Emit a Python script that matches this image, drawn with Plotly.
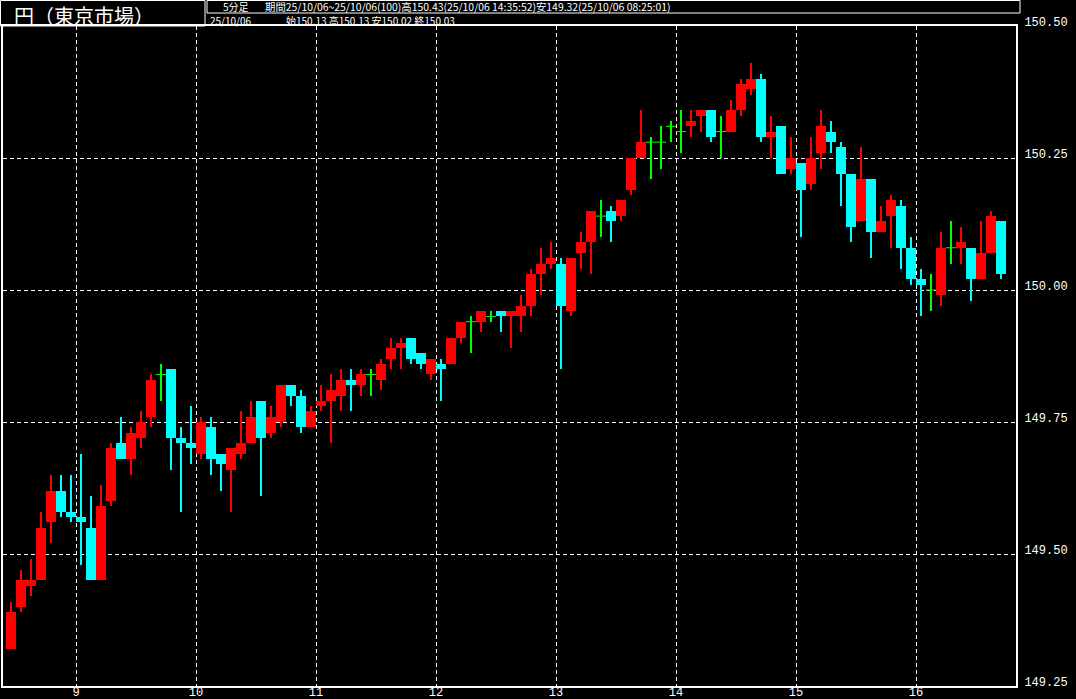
import plotly.graph_objects as go

# ---------------- data (5-minute bars, 25/10/06, from 08:25) ----------------
start_time = "08:25"
bar_minutes = 5
opens = [149.32, 149.40, 149.44, 149.45, 149.56, 149.62, 149.58, 149.57, 149.55, 149.45,
         149.60, 149.71, 149.68, 149.72, 149.76, 149.84, 149.85, 149.72, 149.71, 149.69,
         149.74, 149.69, 149.66, 149.69, 149.71, 149.79, 149.73, 149.75, 149.82, 149.80,
         149.74, 149.78, 149.79, 149.80, 149.83, 149.82, 149.84, 149.83, 149.87, 149.89,
         149.91, 149.88, 149.84, 149.86, 149.86, 149.91, 149.94, 149.94, 149.95, 149.96,
         149.95, 149.95, 149.97, 150.03, 150.05, 150.05, 149.96, 150.07, 150.09, 150.14,
         150.15, 150.14, 150.19, 150.25, 150.28, 150.28, 150.31, 150.30, 150.31, 150.33,
         150.34, 150.30, 150.30, 150.34, 150.38, 150.40, 150.29, 150.31, 150.23, 150.24,
         150.20, 150.26, 150.30, 150.27, 150.22, 150.13, 150.21, 150.11, 150.14, 150.16,
         150.08, 150.02, 150.00, 149.99, 150.08, 150.08, 150.08, 150.02, 150.07, 150.13]
highs = [149.41, 149.47, 149.49, 149.58, 149.65, 149.65, 149.65, 149.69, 149.61, 149.63,
         149.71, 149.76, 149.74, 149.77, 149.84, 149.86, 149.85, 149.74, 149.78, 149.76,
         149.76, 149.69, 149.70, 149.77, 149.79, 149.79, 149.78, 149.82, 149.82, 149.81,
         149.78, 149.82, 149.84, 149.85, 149.85, 149.85, 149.85, 149.87, 149.91, 149.91,
         149.91, 149.88, 149.87, 149.87, 149.91, 149.94, 149.95, 149.96, 149.96, 149.96,
         149.96, 149.99, 150.04, 150.08, 150.09, 150.06, 150.06, 150.11, 150.15, 150.17,
         150.16, 150.17, 150.25, 150.34, 150.29, 150.31, 150.32, 150.34, 150.34, 150.34,
         150.34, 150.33, 150.36, 150.40, 150.43, 150.41, 150.33, 150.31, 150.29, 150.24,
         150.29, 150.34, 150.32, 150.28, 150.22, 150.27, 150.21, 150.16, 150.18, 150.17,
         150.10, 150.04, 150.03, 150.11, 150.13, 150.12, 150.08, 150.13, 150.15, 150.13]
lows = [149.32, 149.39, 149.42, 149.45, 149.52, 149.57, 149.56, 149.48, 149.45, 149.45,
        149.59, 149.68, 149.65, 149.70, 149.74, 149.79, 149.66, 149.58, 149.67, 149.68,
        149.65, 149.62, 149.58, 149.68, 149.71, 149.61, 149.72, 149.74, 149.78, 149.73,
        149.74, 149.77, 149.71, 149.77, 149.77, 149.80, 149.80, 149.81, 149.85, 149.85,
        149.86, 149.85, 149.83, 149.79, 149.86, 149.90, 149.88, 149.92, 149.94, 149.92,
        149.89, 149.92, 149.95, 149.99, 150.04, 149.85, 149.95, 150.04, 150.03, 150.10,
        150.09, 150.13, 150.18, 150.25, 150.21, 150.23, 150.28, 150.26, 150.29, 150.30,
        150.28, 150.25, 150.30, 150.33, 150.37, 150.28, 150.25, 150.22, 150.22, 150.10,
        150.19, 150.23, 150.26, 150.16, 150.09, 150.13, 150.06, 150.11, 150.08, 150.04,
        150.01, 149.95, 149.96, 149.97, 150.05, 150.05, 149.98, 150.02, 150.07, 150.02]
closes = [149.39, 149.45, 149.45, 149.55, 149.62, 149.58, 149.57, 149.56, 149.45, 149.59,
          149.70, 149.68, 149.73, 149.75, 149.83, 149.84, 149.72, 149.71, 149.70, 149.75,
          149.68, 149.67, 149.70, 149.71, 149.76, 149.72, 149.76, 149.82, 149.80, 149.74,
          149.77, 149.79, 149.81, 149.83, 149.82, 149.84, 149.84, 149.86, 149.89, 149.90,
          149.87, 149.86, 149.87, 149.85, 149.91, 149.94, 149.94, 149.96, 149.95, 149.95,
          149.96, 149.97, 150.03, 150.05, 150.06, 149.97, 150.06, 150.09, 150.15, 150.14,
          150.13, 150.17, 150.25, 150.28, 150.28, 150.28, 150.31, 150.30, 150.32, 150.34,
          150.29, 150.30, 150.34, 150.39, 150.40, 150.29, 150.30, 150.22, 150.25, 150.19,
          150.25, 150.31, 150.28, 150.22, 150.12, 150.21, 150.11, 150.13, 150.17, 150.08,
          150.02, 150.01, 150.00, 150.08, 150.08, 150.09, 150.02, 150.07, 150.14, 150.03]
hour_labels = ["9", "10", "11", "12", "13", "14", "15", "16"]
price_ticks = [149.25, 149.50, 149.75, 150.00, 150.25, 150.50]
price_tick_labels = ["149.25", "149.50", "149.75", "150.00", "150.25", "150.50"]

title_text = "円（東京市場）"
header_kind = "5分足"
header_period = "期間25/10/06~25/10/06(100)高150.43(25/10/06 14:35:52)安149.32(25/10/06 08:25:01)"
header_date = "25/10/06"
header_last = "始150.13 高150.13 安150.02 終150.03"

# ---------------- derived ----------------
n = len(opens)
idx = list(range(n))
h0, m0 = map(int, start_time.split(":"))
minutes = [h0 * 60 + m0 + bar_minutes * i for i in idx]
hour_pos = []
for lab in hour_labels:
    k = minutes.index(int(lab) * 60)
    hour_pos.append(k - 0.5)

UP, DOWN, DOJI = "#FF0000", "#00FFFF", "#00FF00"
W, H = 1076, 699
L_PX, R_PX, T_PX, B_PX = 3, 1016, 26, 686


def px_x(p):
    return (p - L_PX) / (R_PX - L_PX)


def px_y(p):
    return (B_PX - p) / (B_PX - T_PX)


fig = go.Figure()

groups = {
    "up": [i for i in idx if closes[i] > opens[i]],
    "down": [i for i in idx if closes[i] < opens[i]],
    "doji": [i for i in idx if closes[i] == opens[i]],
}
colors = {"up": UP, "down": DOWN, "doji": DOJI}

# wicks (thin bars)
for g, ids in groups.items():
    fig.add_trace(go.Bar(
        x=ids, base=[lows[i] for i in ids], y=[highs[i] - lows[i] for i in ids],
        width=0.1, marker=dict(color=colors[g], line=dict(width=0)),
        hoverinfo="skip", showlegend=False))

# bodies
for g in ("up", "down"):
    ids = groups[g]
    fig.add_trace(go.Bar(
        x=ids, base=[min(opens[i], closes[i]) for i in ids],
        y=[abs(closes[i] - opens[i]) for i in ids],
        width=1.0, marker=dict(color=colors[g], line=dict(width=0)),
        hoverinfo="skip", showlegend=False))

# doji horizontal strokes
dx, dy = [], []
for i in groups["doji"]:
    dx += [i - 0.5, i + 0.5, None]
    dy += [opens[i], opens[i], None]
fig.add_trace(go.Scatter(x=dx, y=dy, mode="lines", line=dict(color=DOJI, width=1),
                         hoverinfo="skip", showlegend=False))

# ---------------- header ----------------
shapes = []
line_w = dict(color="white", width=1)
shapes.append(dict(type="rect", xref="paper", yref="paper",
                   x0=px_x(0.5), x1=px_x(205), y0=px_y(26), y1=px_y(0.5), line=line_w))
shapes.append(dict(type="rect", xref="paper", yref="paper",
                   x0=px_x(207), x1=px_x(1020), y0=px_y(13), y1=px_y(0.5), line=line_w))

ann = []
ann.append(dict(text=title_text, x=px_x(12), y=px_y(15), xref="paper", yref="paper",
                xanchor="left", yanchor="middle", showarrow=False,
                font=dict(family="Noto Sans CJK JP", size=20, color="white")))
small = dict(family="Noto Sans CJK JP", size=10, color="white")
ann.append(dict(text=header_kind, x=px_x(221), y=px_y(6.5), xref="paper", yref="paper",
                xanchor="left", yanchor="middle", showarrow=False, font=small))
ann.append(dict(text=header_period, x=px_x(263), y=px_y(6.5), xref="paper", yref="paper",
                xanchor="left", yanchor="middle", showarrow=False,
                font=dict(family="Noto Sans CJK JP", size=10.4, color="white")))
ann.append(dict(text=header_date, x=px_x(208), y=px_y(20), xref="paper", yref="paper",
                xanchor="left", yanchor="middle", showarrow=False, font=small))
ann.append(dict(text=header_last, x=px_x(284), y=px_y(20), xref="paper", yref="paper",
                xanchor="left", yanchor="middle", showarrow=False, font=small))

fig.update_layout(
    width=W, height=H, autosize=False,
    margin=dict(l=L_PX, r=W - R_PX, t=T_PX, b=H - B_PX, pad=0, autoexpand=False),
    paper_bgcolor="black", plot_bgcolor="black",
    barmode="overlay", bargap=0,
    showlegend=False,
    shapes=shapes, annotations=ann,
    xaxis=dict(range=[-0.8, 100.5], tickmode="array", tickvals=hour_pos, ticktext=hour_labels,
               showgrid=True, gridcolor="white", griddash="4px,3px", gridwidth=1,
               zeroline=False, showline=True, mirror=True, linecolor="white", linewidth=2,
               ticks="", tickfont=dict(family="Liberation Mono", size=12, color="white"),
               ticklabelstandoff=-6, automargin=False, fixedrange=True),
    yaxis=dict(range=[price_ticks[0], price_ticks[-1]], side="right", tickmode="array",
               tickvals=price_ticks, ticktext=price_tick_labels,
               showgrid=True, gridcolor="white", griddash="4px,3px", gridwidth=1,
               zeroline=False, showline=True, mirror=True, linecolor="white", linewidth=2,
               ticks="", tickfont=dict(family="Liberation Mono", size=12, color="white"),
               ticklabelstandoff=4, ticklabelshift=-4, automargin=False, fixedrange=True),
)

fig.write_html(
    "out.html",
    config={"displayModeBar": False, "responsive": False},
    post_script="document.body.style.margin='0px';document.body.style.overflow='hidden';"
                "document.body.style.background='black';",
)
